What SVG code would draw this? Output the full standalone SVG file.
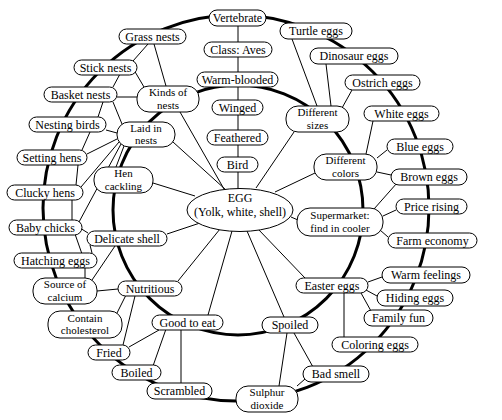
<svg xmlns="http://www.w3.org/2000/svg" width="502" height="420" viewBox="0 0 502 420">
<style>
.n rect, .n ellipse { fill:#fff; stroke:#000; stroke-width:1; }
.n text { font-family:"Liberation Serif","Times New Roman",serif; font-size:12px; text-anchor:middle; fill:#000; }
.n.two text { font-size:11px; }
.c line { stroke:#000; stroke-width:1; }
.c circle { fill:none; stroke:#000; stroke-width:3; }
</style>
<rect x="0" y="0" width="502" height="420" fill="#fff"/>
<g id="connectors" class="c">
<circle cx="236" cy="208" r="193"/>
<circle cx="238" cy="210" r="125"/>
<line x1="238" y1="26" x2="238" y2="42"/>
<line x1="238" y1="57" x2="238" y2="73"/>
<line x1="238" y1="87" x2="238" y2="100"/>
<line x1="238" y1="115" x2="238" y2="130"/>
<line x1="238" y1="145" x2="238" y2="157"/>
<line x1="238" y1="172" x2="238" y2="189"/>
<line x1="148" y1="44" x2="133" y2="61"/>
<line x1="154" y1="44" x2="166" y2="86"/>
<line x1="134" y1="70" x2="144" y2="87"/>
<line x1="120" y1="74" x2="113" y2="87"/>
<line x1="117" y1="97" x2="137" y2="97"/>
<line x1="113" y1="102" x2="122" y2="124"/>
<line x1="103" y1="102" x2="98" y2="117"/>
<line x1="90" y1="132" x2="82" y2="150"/>
<line x1="106" y1="130" x2="117" y2="133"/>
<line x1="117" y1="139" x2="87" y2="154"/>
<line x1="119" y1="142" x2="81" y2="187"/>
<line x1="121" y1="144" x2="79" y2="222"/>
<line x1="124" y1="146" x2="116" y2="167"/>
<line x1="173" y1="142" x2="226" y2="190"/>
<line x1="180" y1="112" x2="224" y2="189"/>
<line x1="153" y1="183" x2="195" y2="196"/>
<line x1="78" y1="165" x2="76" y2="185"/>
<line x1="72" y1="199" x2="72" y2="220"/>
<line x1="80" y1="228" x2="88" y2="233"/>
<line x1="75" y1="234" x2="82" y2="254"/>
<line x1="90" y1="245" x2="92" y2="253"/>
<line x1="85" y1="268" x2="85" y2="278"/>
<line x1="115" y1="246" x2="92" y2="280"/>
<line x1="97" y1="291" x2="118" y2="289"/>
<line x1="126" y1="295" x2="117" y2="313"/>
<line x1="135" y1="296" x2="123" y2="345"/>
<line x1="159" y1="330" x2="129" y2="347"/>
<line x1="166" y1="329" x2="153" y2="366"/>
<line x1="181" y1="330" x2="181" y2="383"/>
<line x1="200" y1="223" x2="167" y2="234"/>
<line x1="220" y1="229" x2="178" y2="281"/>
<line x1="232" y1="231" x2="208" y2="315"/>
<line x1="247" y1="231" x2="284" y2="317"/>
<line x1="258" y1="229" x2="305" y2="278"/>
<line x1="291" y1="217" x2="298" y2="220"/>
<line x1="275" y1="192" x2="315" y2="173"/>
<line x1="256" y1="188" x2="294" y2="132"/>
<line x1="292" y1="39" x2="317" y2="106"/>
<line x1="326" y1="64" x2="331" y2="106"/>
<line x1="352" y1="90" x2="342" y2="108"/>
<line x1="373" y1="121" x2="366" y2="154"/>
<line x1="387" y1="150" x2="377" y2="158"/>
<line x1="377" y1="172" x2="391" y2="175"/>
<line x1="397" y1="183" x2="374" y2="209"/>
<line x1="383" y1="216" x2="396" y2="210"/>
<line x1="380" y1="230" x2="388" y2="237"/>
<line x1="368" y1="282" x2="382" y2="277"/>
<line x1="366" y1="290" x2="377" y2="296"/>
<line x1="361" y1="293" x2="371" y2="311"/>
<line x1="344" y1="293" x2="344" y2="337"/>
<line x1="287" y1="333" x2="279" y2="386"/>
<line x1="294" y1="333" x2="313" y2="367"/>
<line x1="297" y1="386" x2="305" y2="379"/>
</g>
<g id="vertebrate" class="n"><rect x="209" y="10" width="57" height="16" rx="8"/><text x="237.5" y="22">Vertebrate</text></g>
<g id="class-aves" class="n"><rect x="204" y="42" width="68" height="15" rx="7.5"/><text x="238" y="53.5">Class: Aves</text></g>
<g id="warm-blooded" class="n"><rect x="197" y="72" width="81" height="15" rx="7.5"/><text x="237.5" y="83.5">Warm-blooded</text></g>
<g id="winged" class="n"><rect x="212" y="100" width="51" height="15" rx="7.5"/><text x="237.5" y="111.5">Winged</text></g>
<g id="feathered" class="n"><rect x="207" y="130" width="61" height="15" rx="7.5"/><text x="237.5" y="141.5">Feathered</text></g>
<g id="bird" class="n"><rect x="217" y="157" width="41" height="15" rx="7.5"/><text x="237.5" y="168.5">Bird</text></g>
<g id="egg" class="n"><ellipse cx="240" cy="210" rx="53" ry="21.5"/><text x="240" y="202">EGG<tspan x="240" dy="13.5">(Yolk, white, shell)</tspan></text></g>
<g id="grass-nests" class="n"><rect x="119" y="29" width="67" height="15" rx="7.5"/><text x="152.5" y="40.5">Grass nests</text></g>
<g id="stick-nests" class="n"><rect x="74" y="60" width="63" height="15" rx="7.5"/><text x="105.5" y="71.5">Stick nests</text></g>
<g id="basket-nests" class="n"><rect x="44" y="87" width="73" height="15" rx="7.5"/><text x="80.5" y="98.5">Basket nests</text></g>
<g id="kinds-of-nests" class="n two"><rect x="137" y="86" width="62" height="26" rx="12"/><text x="168" y="96">Kinds of<tspan x="168" dy="12.8">nests</tspan></text></g>
<g id="nesting-birds" class="n"><rect x="29" y="117" width="77" height="15" rx="7.5"/><text x="67.5" y="128.5">Nesting birds</text></g>
<g id="laid-in-nests" class="n two"><rect x="117" y="122" width="58" height="25" rx="12"/><text x="146" y="131.5">Laid in<tspan x="146" dy="12.8">nests</tspan></text></g>
<g id="setting-hens" class="n"><rect x="17" y="150" width="70" height="15" rx="7.5"/><text x="52" y="161.5">Setting hens</text></g>
<g id="hen-cackling" class="n two"><rect x="94" y="167" width="59" height="26" rx="12"/><text x="123.5" y="177">Hen<tspan x="123.5" dy="12.8">cackling</tspan></text></g>
<g id="clucky-hens" class="n"><rect x="7" y="185" width="76" height="15" rx="7.5"/><text x="45" y="196.5">Clucky hens</text></g>
<g id="turtle-eggs" class="n"><rect x="280" y="23" width="72" height="16" rx="8"/><text x="316" y="35">Turtle eggs</text></g>
<g id="dinosaur-eggs" class="n"><rect x="310" y="48" width="88" height="16" rx="8"/><text x="354" y="60">Dinosaur eggs</text></g>
<g id="ostrich-eggs" class="n"><rect x="345" y="75" width="75" height="15" rx="7.5"/><text x="382.5" y="86.5">Ostrich eggs</text></g>
<g id="different-sizes" class="n two"><rect x="286" y="106" width="63" height="26" rx="12"/><text x="317.5" y="116">Different<tspan x="317.5" dy="12.8">sizes</tspan></text></g>
<g id="white-eggs" class="n"><rect x="364" y="106" width="75" height="15" rx="7.5"/><text x="401.5" y="117.5">White eggs</text></g>
<g id="blue-eggs" class="n"><rect x="387" y="139" width="66" height="15" rx="7.5"/><text x="420" y="150.5">Blue eggs</text></g>
<g id="different-colors" class="n two"><rect x="314" y="154" width="63" height="26" rx="12"/><text x="345.5" y="164">Different<tspan x="345.5" dy="12.8">colors</tspan></text></g>
<g id="brown-eggs" class="n"><rect x="391" y="169" width="76" height="16" rx="8"/><text x="429" y="181">Brown eggs</text></g>
<g id="price-rising" class="n"><rect x="396" y="199" width="71" height="15" rx="7.5"/><text x="431.5" y="210.5">Price rising</text></g>
<g id="supermarket" class="n two"><rect x="297" y="208" width="86" height="28" rx="13"/><text x="340" y="219">Supermarket:<tspan x="340" dy="12.8">find in cooler</tspan></text></g>
<g id="farm-economy" class="n"><rect x="388" y="233" width="89" height="15" rx="7.5"/><text x="432.5" y="244.5">Farm economy</text></g>
<g id="warm-feelings" class="n"><rect x="382" y="267" width="88" height="16" rx="8"/><text x="426" y="279">Warm feelings</text></g>
<g id="hiding-eggs" class="n"><rect x="377" y="290" width="76" height="16" rx="8"/><text x="415" y="302">Hiding eggs</text></g>
<g id="easter-eggs" class="n"><rect x="296" y="278" width="72" height="15" rx="7.5"/><text x="332" y="289.5">Easter eggs</text></g>
<g id="family-fun" class="n"><rect x="364" y="310" width="69" height="16" rx="8"/><text x="398.5" y="322">Family fun</text></g>
<g id="coloring-eggs" class="n"><rect x="332" y="337" width="86" height="15" rx="7.5"/><text x="375" y="348.5">Coloring eggs</text></g>
<g id="spoiled" class="n"><rect x="262" y="317" width="56" height="16" rx="8"/><text x="290" y="329">Spoiled</text></g>
<g id="bad-smell" class="n"><rect x="303" y="366" width="66" height="16" rx="8"/><text x="336" y="378">Bad smell</text></g>
<g id="sulphur-dioxide" class="n two"><rect x="236" y="386" width="62" height="26" rx="12"/><text x="267" y="396">Sulphur<tspan x="267" dy="12.8">dioxide</tspan></text></g>
<g id="baby-chicks" class="n"><rect x="9" y="220" width="73" height="15" rx="7.5"/><text x="45.5" y="231.5">Baby chicks</text></g>
<g id="delicate-shell" class="n"><rect x="87" y="231" width="80" height="15" rx="7.5"/><text x="127" y="242.5">Delicate shell</text></g>
<g id="hatching-eggs" class="n"><rect x="14" y="253" width="83" height="15" rx="7.5"/><text x="55.5" y="264.5">Hatching eggs</text></g>
<g id="source-of-calcium" class="n two"><rect x="33" y="278" width="64" height="26" rx="12"/><text x="65" y="288">Source of<tspan x="65" dy="12.8">calcium</tspan></text></g>
<g id="nutritious" class="n"><rect x="118" y="281" width="64" height="15" rx="7.5"/><text x="150" y="292.5">Nutritious</text></g>
<g id="contain-cholesterol" class="n two"><rect x="48" y="311" width="74" height="27" rx="12"/><text x="85" y="321.5">Contain<tspan x="85" dy="12.8">cholesterol</tspan></text></g>
<g id="good-to-eat" class="n"><rect x="152" y="315" width="71" height="15" rx="7.5"/><text x="187.5" y="326.5">Good to eat</text></g>
<g id="fried" class="n"><rect x="88" y="345" width="42" height="15" rx="7.5"/><text x="109" y="356.5">Fried</text></g>
<g id="boiled" class="n"><rect x="112" y="365" width="49" height="15" rx="7.5"/><text x="136.5" y="376.5">Boiled</text></g>
<g id="scrambled" class="n"><rect x="147" y="383" width="65" height="16" rx="8"/><text x="179.5" y="395">Scrambled</text></g>
</svg>
